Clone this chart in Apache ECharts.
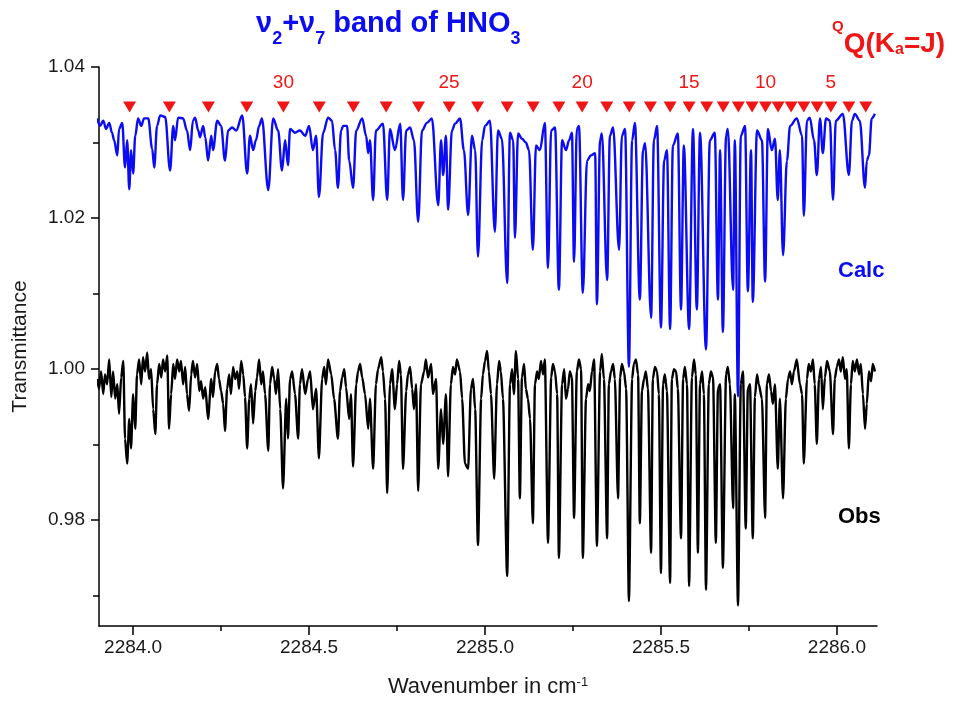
<!DOCTYPE html>
<html>
<head>
<meta charset="utf-8">
<title>HNO3 v2+v7 band</title>
<script src="https://cdn.jsdelivr.net/npm/echarts@6/dist/echarts.min.js"></script>
<style>
  html, body { margin: 0; padding: 0; background: #fff; }
  #chart { width: 958px; height: 703px; }
</style>
</head>
<body>
<div id="chart"></div>
<script>
// Calculated spectrum: [wavenumber (cm-1), transmittance], maxima and minima of the trace
const calcSpectrum = [
  [2283.898,1.0332],[2283.906,1.0322],[2283.915,1.0329],[2283.923,1.0318],[2283.932,1.0326],[2283.940,1.0313],
  [2283.946,1.0303],[2283.955,1.0283],[2283.960,1.0318],[2283.969,1.0326],[2283.977,1.0267],[2283.983,1.0303],
  [2283.989,1.0238],[2283.994,1.0290],[2284.000,1.0259],[2284.006,1.0309],[2284.014,1.0332],[2284.023,1.0322],
  [2284.031,1.0332],[2284.043,1.0332],[2284.054,1.0292],[2284.060,1.0267],[2284.068,1.0322],[2284.077,1.0336],
  [2284.091,1.0334],[2284.105,1.0263],[2284.114,1.0322],[2284.119,1.0303],[2284.128,1.0333],[2284.142,1.0332],
  [2284.153,1.0316],[2284.162,1.0290],[2284.170,1.0329],[2284.176,1.0333],[2284.185,1.0316],[2284.190,1.0307],
  [2284.199,1.0322],[2284.205,1.0307],[2284.213,1.0276],[2284.222,1.0309],[2284.227,1.0290],[2284.239,1.0329],
  [2284.250,1.0322],[2284.261,1.0276],[2284.270,1.0316],[2284.281,1.0320],[2284.293,1.0316],[2284.310,1.0336],
  [2284.324,1.0259],[2284.332,1.0309],[2284.341,1.0290],[2284.349,1.0303],[2284.358,1.0322],[2284.366,1.0332],
  [2284.384,1.0237],[2284.398,1.0332],[2284.412,1.0316],[2284.423,1.0263],[2284.432,1.0303],[2284.440,1.0270],
  [2284.446,1.0318],[2284.460,1.0313],[2284.474,1.0316],[2284.489,1.0309],[2284.500,1.0322],[2284.511,1.0290],
  [2284.520,1.0309],[2284.528,1.0228],[2284.540,1.0313],[2284.554,1.0333],[2284.565,1.0329],[2284.574,1.0290],
  [2284.582,1.0240],[2284.591,1.0316],[2284.597,1.0322],[2284.608,1.0322],[2284.614,1.0276],[2284.625,1.0240],
  [2284.634,1.0316],[2284.651,1.0332],[2284.662,1.0309],[2284.668,1.0286],[2284.673,1.0303],[2284.682,1.0224],
  [2284.690,1.0316],[2284.710,1.0325],[2284.722,1.0224],[2284.730,1.0318],[2284.744,1.0290],[2284.759,1.0325],
  [2284.767,1.0224],[2284.776,1.0316],[2284.787,1.0320],[2284.798,1.0303],[2284.810,1.0195],[2284.821,1.0316],
  [2284.835,1.0326],[2284.849,1.0332],[2284.867,1.0217],[2284.875,1.0303],[2284.881,1.0257],[2284.889,1.0309],
  [2284.895,1.0211],[2284.906,1.0316],[2284.915,1.0325],[2284.929,1.0332],[2284.940,1.0290],[2284.952,1.0204],
  [2284.963,1.0309],[2284.972,1.0290],[2284.980,1.0149],[2284.992,1.0303],[2285.000,1.0322],[2285.014,1.0329],
  [2285.028,1.0182],[2285.037,1.0316],[2285.048,1.0305],[2285.063,1.0114],[2285.071,1.0313],[2285.080,1.0303],
  [2285.085,1.0174],[2285.094,1.0312],[2285.105,1.0305],[2285.116,1.0300],[2285.125,1.0290],[2285.136,1.0158],
  [2285.145,1.0296],[2285.156,1.0290],[2285.170,1.0326],[2285.179,1.0134],[2285.188,1.0316],[2285.199,1.0320],
  [2285.210,1.0105],[2285.219,1.0303],[2285.230,1.0290],[2285.239,1.0303],[2285.247,1.0313],[2285.253,1.0142],
  [2285.261,1.0318],[2285.267,1.0322],[2285.278,1.0101],[2285.290,1.0276],[2285.301,1.0283],[2285.313,1.0286],
  [2285.318,1.0086],[2285.327,1.0303],[2285.332,1.0312],[2285.347,1.0118],[2285.355,1.0309],[2285.364,1.0320],
  [2285.381,1.0158],[2285.389,1.0309],[2285.398,1.0318],[2285.409,1.0003],[2285.418,1.0303],[2285.426,1.0326],
  [2285.440,1.0092],[2285.449,1.0290],[2285.455,1.0299],[2285.472,1.0068],[2285.480,1.0303],[2285.489,1.0322],
  [2285.500,1.0055],[2285.509,1.0276],[2285.517,1.0290],[2285.526,1.0053],[2285.534,1.0296],[2285.548,1.0312],
  [2285.557,1.0079],[2285.565,1.0296],[2285.580,1.0053],[2285.591,1.0318],[2285.602,1.0079],[2285.611,1.0313],
  [2285.628,1.0026],[2285.639,1.0303],[2285.653,1.0313],[2285.662,1.0092],[2285.668,1.0290],[2285.676,1.0049],
  [2285.685,1.0309],[2285.690,1.0318],[2285.705,1.0105],[2285.710,1.0303],[2285.719,0.9964],[2285.727,1.0309],
  [2285.739,1.0322],[2285.747,1.0103],[2285.756,1.0290],[2285.761,1.0089],[2285.773,1.0316],[2285.787,1.0303],
  [2285.796,1.0116],[2285.804,1.0318],[2285.815,1.0290],[2285.824,1.0305],[2285.832,1.0224],[2285.838,1.0290],
  [2285.847,1.0151],[2285.858,1.0276],[2285.867,1.0322],[2285.886,1.0332],[2285.901,1.0309],[2285.906,1.0203],
  [2285.915,1.0329],[2285.923,1.0333],[2285.935,1.0303],[2285.943,1.0257],[2285.952,1.0332],[2285.960,1.0286],
  [2285.969,1.0332],[2285.980,1.0329],[2285.989,1.0224],[2285.997,1.0329],[2286.017,1.0338],[2286.034,1.0257],
  [2286.043,1.0329],[2286.051,1.0338],[2286.065,1.0329],[2286.080,1.0240],[2286.085,1.0276],[2286.091,1.0283],
  [2286.099,1.0332],[2286.108,1.0338]
];

// Observed spectrum: [wavenumber (cm-1), transmittance]
const obsSpectrum = [
  [2283.898,0.9987],[2283.903,0.9974],[2283.909,0.9997],[2283.915,0.9967],[2283.920,0.9993],[2283.926,0.9980],
  [2283.932,1.0013],[2283.938,0.9963],[2283.943,0.9997],[2283.949,0.9961],[2283.955,0.9980],[2283.960,0.9941],
  [2283.966,0.9989],[2283.972,1.0011],[2283.977,0.9908],[2283.983,0.9875],[2283.989,0.9934],[2283.994,0.9895],
  [2284.000,0.9967],[2284.006,0.9921],[2284.011,0.9993],[2284.017,1.0013],[2284.023,0.9980],[2284.028,1.0016],
  [2284.034,0.9997],[2284.040,1.0022],[2284.045,0.9987],[2284.051,1.0000],[2284.057,0.9947],[2284.063,0.9914],
  [2284.068,0.9980],[2284.074,1.0007],[2284.080,0.9989],[2284.085,1.0013],[2284.091,0.9997],[2284.097,1.0018],
  [2284.102,0.9921],[2284.108,0.9967],[2284.114,1.0007],[2284.119,0.9987],[2284.125,1.0013],[2284.131,0.9997],
  [2284.136,1.0011],[2284.142,0.9980],[2284.148,1.0003],[2284.153,0.9967],[2284.159,0.9945],[2284.165,0.9993],
  [2284.170,1.0011],[2284.176,0.9989],[2284.182,1.0007],[2284.188,0.9971],[2284.193,0.9984],[2284.199,0.9961],
  [2284.205,0.9976],[2284.213,0.9934],[2284.222,0.9987],[2284.227,0.9963],[2284.233,0.9997],[2284.239,1.0007],
  [2284.244,0.9987],[2284.250,0.9971],[2284.256,0.9954],[2284.261,0.9918],[2284.267,0.9974],[2284.273,0.9993],
  [2284.278,0.9967],[2284.284,1.0003],[2284.290,0.9987],[2284.296,0.9997],[2284.301,0.9974],[2284.307,1.0011],
  [2284.313,0.9993],[2284.318,0.9963],[2284.324,0.9895],[2284.330,0.9961],[2284.335,0.9980],[2284.341,0.9928],
  [2284.347,0.9971],[2284.352,0.9989],[2284.358,1.0013],[2284.364,0.9980],[2284.369,0.9997],[2284.375,0.9967],
  [2284.384,0.9892],[2284.389,0.9980],[2284.395,1.0003],[2284.401,0.9987],[2284.406,0.9967],[2284.412,1.0000],
  [2284.418,0.9947],[2284.426,0.9842],[2284.435,0.9961],[2284.440,0.9908],[2284.446,0.9987],[2284.452,0.9997],
  [2284.460,0.9967],[2284.469,0.9908],[2284.474,0.9980],[2284.480,1.0000],[2284.489,0.9967],[2284.497,0.9987],
  [2284.503,0.9997],[2284.511,0.9947],[2284.520,0.9974],[2284.528,0.9882],[2284.537,0.9987],[2284.543,1.0003],
  [2284.548,0.9980],[2284.554,1.0013],[2284.563,0.9993],[2284.571,0.9961],[2284.582,0.9908],[2284.588,0.9971],
  [2284.594,0.9989],[2284.600,1.0000],[2284.605,0.9976],[2284.614,0.9934],[2284.619,0.9967],[2284.625,0.9871],
  [2284.634,0.9980],[2284.639,0.9997],[2284.645,1.0007],[2284.651,0.9989],[2284.659,0.9967],[2284.668,0.9921],
  [2284.673,0.9961],[2284.682,0.9868],[2284.690,0.9980],[2284.696,1.0000],[2284.705,1.0016],[2284.710,0.9997],
  [2284.716,0.9961],[2284.722,0.9836],[2284.730,0.9980],[2284.736,1.0000],[2284.744,0.9947],[2284.750,0.9980],
  [2284.756,1.0011],[2284.761,0.9993],[2284.767,0.9868],[2284.776,0.9971],[2284.781,0.9993],[2284.787,1.0003],
  [2284.793,0.9974],[2284.798,0.9947],[2284.804,0.9980],[2284.810,0.9839],[2284.818,0.9980],[2284.827,0.9997],
  [2284.832,1.0013],[2284.838,0.9989],[2284.847,1.0007],[2284.852,0.9967],[2284.861,0.9987],[2284.867,0.9868],
  [2284.875,0.9947],[2284.881,0.9901],[2284.889,0.9967],[2284.895,0.9858],[2284.903,0.9980],[2284.909,1.0003],
  [2284.915,0.9993],[2284.920,1.0013],[2284.929,0.9997],[2284.935,0.9961],[2284.943,0.9875],[2284.952,0.9868],
  [2284.960,0.9974],[2284.966,0.9987],[2284.972,0.9947],[2284.980,0.9767],[2284.989,0.9961],[2284.994,0.9993],
  [2285.000,1.0011],[2285.006,1.0024],[2285.011,0.9997],[2285.017,0.9967],[2285.026,0.9855],[2285.034,0.9980],
  [2285.040,1.0011],[2285.045,0.9997],[2285.051,0.9961],[2285.063,0.9726],[2285.071,0.9980],[2285.077,1.0000],
  [2285.082,0.9967],[2285.088,1.0024],[2285.094,0.9987],[2285.099,0.9829],[2285.105,0.9989],[2285.111,1.0007],
  [2285.116,0.9974],[2285.122,0.9961],[2285.128,0.9934],[2285.136,0.9796],[2285.142,0.9980],[2285.148,0.9997],
  [2285.153,0.9987],[2285.159,1.0011],[2285.165,0.9993],[2285.170,1.0013],[2285.179,0.9770],[2285.188,0.9989],
  [2285.193,1.0007],[2285.199,0.9997],[2285.205,0.9967],[2285.210,0.9750],[2285.219,0.9980],[2285.225,1.0000],
  [2285.230,0.9961],[2285.236,0.9974],[2285.241,0.9997],[2285.247,0.9989],[2285.253,0.9803],[2285.261,0.9997],
  [2285.267,1.0013],[2285.273,1.0000],[2285.278,0.9750],[2285.287,0.9961],[2285.293,0.9980],[2285.298,0.9971],
  [2285.304,0.9997],[2285.310,1.0013],[2285.318,0.9766],[2285.327,0.9997],[2285.332,1.0020],[2285.338,0.9987],
  [2285.347,0.9776],[2285.352,0.9980],[2285.358,0.9997],[2285.364,1.0007],[2285.369,0.9987],[2285.378,0.9829],
  [2285.384,0.9989],[2285.389,1.0007],[2285.395,0.9997],[2285.401,0.9974],[2285.409,0.9693],[2285.418,0.9987],
  [2285.423,1.0007],[2285.429,1.0013],[2285.435,0.9993],[2285.440,0.9796],[2285.446,0.9971],[2285.452,0.9987],
  [2285.457,0.9997],[2285.463,0.9974],[2285.472,0.9757],[2285.477,0.9987],[2285.483,1.0003],[2285.489,0.9997],
  [2285.494,0.9967],[2285.500,0.9730],[2285.506,0.9980],[2285.511,0.9993],[2285.517,0.9971],[2285.526,0.9717],
  [2285.531,0.9987],[2285.537,1.0000],[2285.543,0.9997],[2285.548,0.9974],[2285.557,0.9776],[2285.563,0.9987],
  [2285.568,1.0003],[2285.574,0.9980],[2285.580,0.9713],[2285.588,0.9989],[2285.594,1.0013],[2285.599,0.9993],
  [2285.605,0.9757],[2285.611,0.9980],[2285.617,0.9997],[2285.622,0.9967],[2285.628,0.9708],[2285.636,0.9980],
  [2285.642,0.9997],[2285.648,0.9989],[2285.656,0.9770],[2285.662,0.9974],[2285.668,0.9980],[2285.676,0.9737],
  [2285.685,0.9993],[2285.690,1.0003],[2285.696,0.9980],[2285.705,0.9816],[2285.710,0.9967],[2285.719,0.9687],
  [2285.727,0.9980],[2285.733,0.9997],[2285.741,0.9789],[2285.747,0.9974],[2285.753,0.9980],[2285.761,0.9776],
  [2285.767,0.9963],[2285.773,0.9993],[2285.778,0.9980],[2285.787,0.9961],[2285.796,0.9803],[2285.801,0.9980],
  [2285.807,0.9993],[2285.813,0.9971],[2285.818,0.9954],[2285.824,0.9980],[2285.832,0.9868],[2285.838,0.9961],
  [2285.847,0.9829],[2285.855,0.9961],[2285.861,0.9987],[2285.867,0.9997],[2285.872,0.9980],[2285.878,0.9997],
  [2285.886,1.0013],[2285.895,0.9980],[2285.901,0.9967],[2285.906,0.9875],[2285.915,0.9987],[2285.920,1.0007],
  [2285.926,0.9997],[2285.932,1.0013],[2285.937,0.9980],[2285.943,0.9901],[2285.949,0.9987],[2285.955,1.0003],
  [2285.960,0.9947],[2285.966,0.9989],[2285.972,1.0011],[2285.980,0.9997],[2285.989,0.9914],[2285.994,0.9987],
  [2286.000,1.0003],[2286.006,1.0013],[2286.011,0.9997],[2286.017,1.0016],[2286.023,0.9987],[2286.028,1.0000],
  [2286.034,0.9895],[2286.040,0.9980],[2286.045,1.0011],[2286.051,0.9997],[2286.057,1.0013],[2286.063,0.9993],
  [2286.068,1.0007],[2286.074,0.9967],[2286.080,0.9921],[2286.085,0.9954],[2286.091,0.9997],[2286.097,0.9984],
  [2286.102,1.0007],[2286.108,0.9997]
];

// Q-branch line positions, K_a = J from 34 down to 3
const qBranchK = [34,33,32,31,30,29,28,27,26,25,24,23,22,21,20,19,18,17,16,15,14,13,12,11,10,9,8,7,6,5,4,3];
const qBranchWn = [
  2283.990,2284.103,2284.214,2284.323,2284.427,2284.529,2284.626,2284.719,2284.811,2284.898,2284.979,
  2285.063,2285.137,2285.210,2285.276,2285.346,2285.410,2285.470,2285.526,2285.580,2285.630,2285.677,
  2285.720,2285.759,2285.797,2285.833,2285.870,2285.906,2285.944,2285.983,2286.034,2286.082
];
const qMarkerLevel = 1.0347;
const labelledK = [30, 25, 20, 15, 10, 5];

// Axis ticks
const xMajorTicks = [2284.0, 2284.5, 2285.0, 2285.5, 2286.0];
const xMinorTicks = [2284.25, 2284.75, 2285.25, 2285.75];
const yMajorTicks = [0.98, 1.00, 1.02, 1.04];
const yMinorTicks = [0.97, 0.99, 1.01, 1.03];

const FONT = "'Liberation Sans', Arial, Helvetica, sans-serif";
const BLUE = '#0c0cf2';
const RED = '#f01616';
const X_RANGE = { min: 2283.903, max: 2286.114 };
const Y_RANGE = { min: 0.966, max: 1.04 };

const chart = echarts.init(document.getElementById('chart'), null, { renderer: 'canvas' });

const baseX = {
  type: 'value', gridIndex: 0, position: 'bottom',
  min: X_RANGE.min, max: X_RANGE.max,
  splitLine: { show: false }
};
const baseY = {
  type: 'value', gridIndex: 0, position: 'left',
  min: Y_RANGE.min, max: Y_RANGE.max,
  splitLine: { show: false }
};

const option = {
  animation: false,
  backgroundColor: '#ffffff',
  textStyle: { fontFamily: FONT },
  grid: { left: 99, right: 81, top: 67, bottom: 75, containLabel: false },
  xAxis: [
    Object.assign({}, baseX, {
      name: 'Wavenumber in cm{sup|-1}',
      nameLocation: 'middle',
      nameGap: 50,
      nameTextStyle: {
        fontFamily: FONT, fontSize: 22, color: '#1a1a1a',
        rich: { sup: { fontFamily: FONT, fontSize: 13, color: '#1a1a1a', verticalAlign: 'top', lineHeight: 12 } }
      },
      axisLine: { onZero: false, lineStyle: { color: '#000', width: 1.5 } },
      axisTick: { inside: false, length: 9, customValues: xMajorTicks, lineStyle: { color: '#000', width: 1.5 } },
      axisLabel: {
        customValues: xMajorTicks, margin: 12, fontSize: 19, color: '#1a1a1a', fontFamily: FONT,
        formatter: v => Number(v).toFixed(1)
      }
    }),
    Object.assign({}, baseX, {
      axisLine: { show: false, onZero: false },
      axisTick: { length: 5, customValues: xMinorTicks, lineStyle: { color: '#000', width: 1.5 } },
      axisLabel: { show: false }
    })
  ],
  yAxis: [
    Object.assign({}, baseY, {
      name: 'Transmittance',
      nameLocation: 'middle',
      nameGap: 68,
      nameTextStyle: { fontFamily: FONT, fontSize: 21, color: '#1a1a1a' },
      axisLine: { onZero: false, lineStyle: { color: '#000', width: 1.5 } },
      axisTick: { length: 8, customValues: yMajorTicks, lineStyle: { color: '#000', width: 1.5 } },
      axisLabel: {
        customValues: yMajorTicks, margin: 14, fontSize: 19, color: '#1a1a1a', fontFamily: FONT,
        formatter: v => Number(v).toFixed(2)
      }
    }),
    Object.assign({}, baseY, {
      axisLine: { show: false, onZero: false },
      axisTick: { length: 6, customValues: yMinorTicks, lineStyle: { color: '#000', width: 1.5 } },
      axisLabel: { show: false }
    })
  ],
  series: [
    {
      name: 'Obs', type: 'line', xAxisIndex: 0, yAxisIndex: 0,
      data: obsSpectrum, showSymbol: false, smooth: 0.25, smoothMonotone: 'x',
      lineStyle: { color: '#000', width: 2.4 }, z: 2
    },
    {
      name: 'Calc', type: 'line', xAxisIndex: 0, yAxisIndex: 0,
      data: calcSpectrum, showSymbol: false, smooth: 0.35, smoothMonotone: 'x',
      lineStyle: { color: BLUE, width: 2.4 }, z: 3
    },
    {
      name: 'Q branch', type: 'scatter', xAxisIndex: 0, yAxisIndex: 0,
      symbol: 'triangle', symbolRotate: 180, symbolSize: [13, 11],
      itemStyle: { color: RED, opacity: 1 },
      z: 5,
      data: qBranchWn.map((w, i) => ({
        value: [w, qMarkerLevel, qBranchK[i]],
        label: { show: labelledK.includes(qBranchK[i]) }
      })),
      label: {
        position: 'top', distance: 9, color: RED, fontSize: 19, fontFamily: FONT, opacity: 1,
        formatter: p => String(p.value[2])
      }
    }
  ],
  graphic: [
    {
      type: 'text', left: 256, top: 9, z: 10,
      style: {
        text: '{m|\u03bd}{s|2}{m|+\u03bd}{s|7}{m| band of HNO}{s|3}',
        rich: {
          m: { fontFamily: FONT, fontWeight: 'bold', fontSize: 29, fill: BLUE, lineHeight: 39, verticalAlign: 'top' },
          s: { fontFamily: FONT, fontWeight: 'bold', fontSize: 18, fill: BLUE, lineHeight: 14, verticalAlign: 'bottom' }
        }
      }
    },
    {
      type: 'text', left: 832, top: 19, z: 10,
      style: {
        text: '{p|Q}{m|Q(K}{s|a}{m|=J)}',
        rich: {
          m: { fontFamily: FONT, fontWeight: 'bold', fontSize: 28, fill: RED, lineHeight: 39, verticalAlign: 'bottom' },
          p: { fontFamily: FONT, fontWeight: 'bold', fontSize: 15, fill: RED, lineHeight: 14, verticalAlign: 'top' },
          s: { fontFamily: FONT, fontWeight: 'bold', fontSize: 16, fill: RED, lineHeight: 12, verticalAlign: 'bottom' }
        }
      }
    },
    {
      type: 'text', left: 838, top: 260, z: 10,
      style: { text: 'Calc', fontFamily: FONT, fontWeight: 'bold', fontSize: 22, fill: BLUE }
    },
    {
      type: 'text', left: 838, top: 506, z: 10,
      style: { text: 'Obs', fontFamily: FONT, fontWeight: 'bold', fontSize: 22, fill: '#000' }
    }
  ]
};

chart.setOption(option);
</script>
</body>
</html>
